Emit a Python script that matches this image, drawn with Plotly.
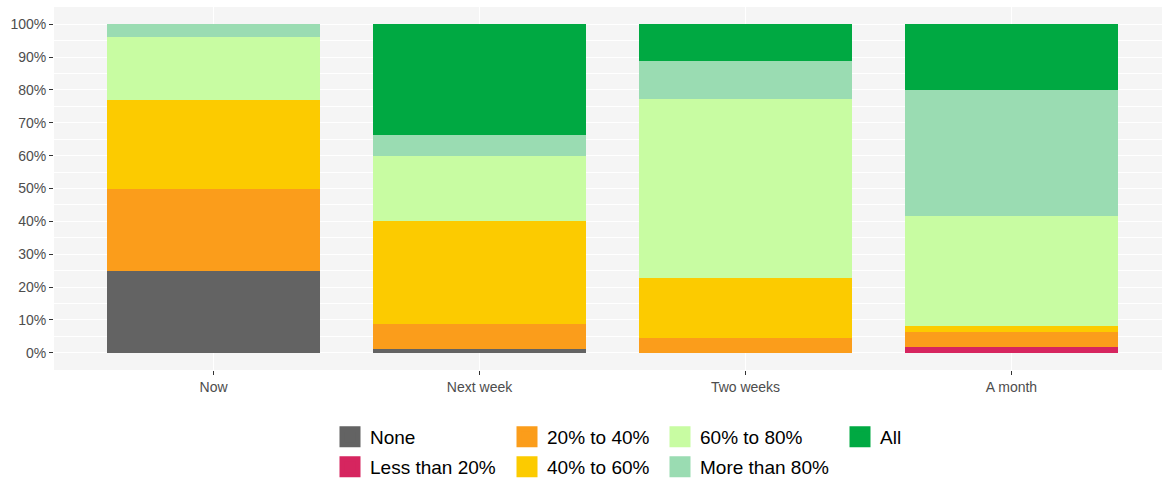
import plotly.graph_objects as go

categories = ["Now", "Next week", "Two weeks", "A month"]
series_names = ["None", "Less than 20%", "20% to 40%", "40% to 60%", "60% to 80%", "More than 80%", "All"]
none_vals = [25.0, 1.2, 0.0, 0.0]
lt20_vals = [0.0, 0.0, 0.0, 1.9]
p20_40_vals = [25.0, 7.6, 4.4, 4.3]
p40_60_vals = [27.0, 31.3, 18.5, 2.0]
p60_80_vals = [19.0, 19.8, 54.4, 33.3]
gt80_vals = [4.0, 6.4, 11.5, 38.6]
all_vals = [0.0, 33.7, 11.2, 19.9]
y_ticks = list(range(0, 101, 10))

values = [none_vals, lt20_vals, p20_40_vals, p40_60_vals, p60_80_vals, gt80_vals, all_vals]
colors = ["#636363", "#D6255F", "#FB9D1B", "#FCCB00", "#C8FCA2", "#9ADCB2", "#00A942"]

FONT = "Liberation Sans, Arial, sans-serif"
W, H = 1162, 479

fig = go.Figure()
for name, vals, col in zip(series_names, values, colors):
    fig.add_trace(go.Bar(x=categories, y=vals, name=name, marker=dict(color=col, line=dict(width=0)),
                         showlegend=False, hovertemplate="%{x}: %{y}%<extra>" + name + "</extra>"))

# legend layout: ggplot-like 2 rows x 4 columns (column-major)
col_x = [336, 513, 666, 846]
row_y = [437, 467]
layout_legends = {}
for i, (name, col) in enumerate(zip(series_names, colors)):
    c, r = divmod(i, 2)
    key = "legend" if i == 0 else f"legend{i+1}"
    fig.add_trace(go.Scatter(x=[categories[0]], y=[None], mode="markers", name=name,
                             marker=dict(symbol="square", size=16, color=col, line=dict(width=5, color=col)),
                             legend=key, showlegend=True, hoverinfo="skip"))
    layout_legends[key] = dict(
        x=(col_x[c] - 6) / W, y=1 - row_y[r] / H, xref="container", yref="container",
        xanchor="left", yanchor="middle", orientation="v", bgcolor="rgba(0,0,0,0)",
        font=dict(family=FONT, size=19, color="#000000"), itemwidth=30, borderwidth=0,
    )

fig.update_layout(
    width=W, height=H,
    margin=dict(l=54, r=0, t=7, b=109, autoexpand=False),
    paper_bgcolor="white",
    plot_bgcolor="#F5F5F5",
    barmode="stack",
    bargap=0.2,
    font=dict(family=FONT, size=14, color="#4D4D4D"),
    **layout_legends,
)
fig.update_xaxes(
    type="category",
    range=[-0.6, 3.566], showgrid=True, gridcolor="white", gridwidth=1.1,
    ticks="outside", ticklen=4, tickcolor="#333333", tickwidth=1,
    tickfont=dict(family=FONT, size=14, color="#4D4D4D"),
    zeroline=False, showline=False,
)
fig.update_yaxes(
    range=[-5.25, 105.25], tickvals=y_ticks, ticktext=[f"{v}%" for v in y_ticks],
    showgrid=True, gridcolor="white", gridwidth=1.1,
    minor=dict(dtick=5, tick0=0, showgrid=True, gridcolor="white", gridwidth=0.5),
    ticks="outside", ticklen=4, tickcolor="#333333", tickwidth=1,
    tickfont=dict(family=FONT, size=14, color="#4D4D4D"),
    zeroline=False, showline=False,
)

fig.write_html("out.html", config={"displayModeBar": False},
               post_script="document.body.style.margin='0';document.body.style.overflow='hidden';")
